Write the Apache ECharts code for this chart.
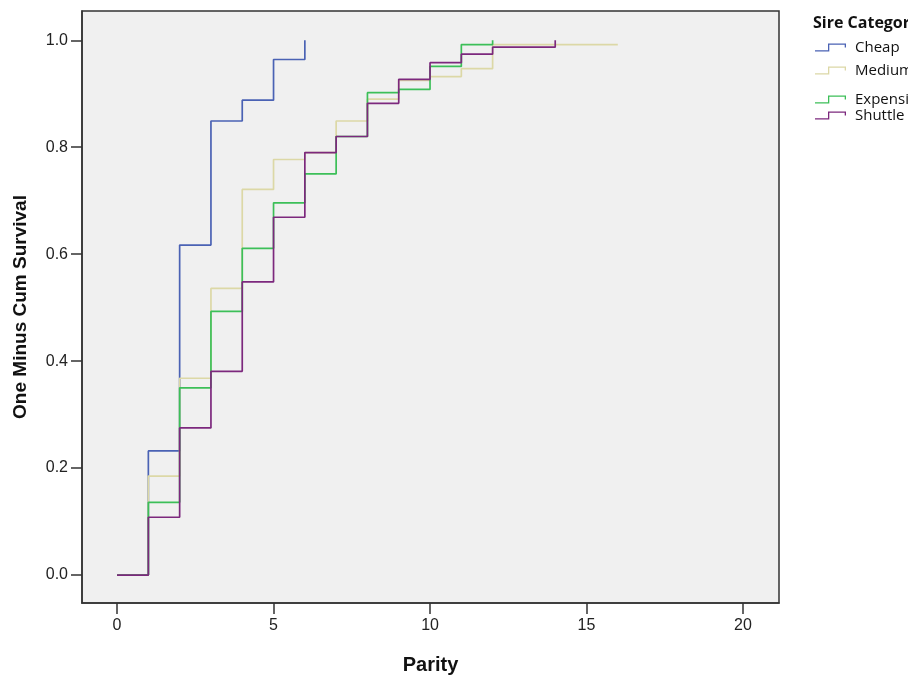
<!DOCTYPE html>
<html>
<head>
<meta charset="utf-8">
<script src="https://cdn.jsdelivr.net/npm/echarts@6/dist/echarts.min.js"></script>
<style>
html, body { margin: 0; padding: 0; background: #fff; }
#km { width: 908px; height: 686px; }
</style>
</head>
<body>
<div id="km"></div>
<script>
// parity steps and "one minus cum survival" per sire category
var cheapX = [0, 1, 2, 3, 4, 5, 6];
var cheapY = [0, 0.232, 0.617, 0.849, 0.888, 0.964, 1.0];

var mediumX = [0, 1, 2, 3, 4, 5, 6, 7, 8, 9, 10, 11, 12, 16];
var mediumY = [0, 0.185, 0.368, 0.536, 0.721, 0.777, 0.79, 0.849, 0.89, 0.925, 0.932, 0.947, 0.992, 0.992];

var expensiveX = [0, 1, 2, 3, 4, 5, 6, 7, 8, 9, 10, 11, 12];
var expensiveY = [0, 0.136, 0.35, 0.493, 0.611, 0.696, 0.75, 0.82, 0.902, 0.908, 0.951, 0.992, 1.0];

var shuttleX = [0, 1, 2, 3, 4, 5, 6, 7, 8, 9, 10, 11, 12, 14];
var shuttleY = [0, 0.108, 0.275, 0.381, 0.548, 0.669, 0.79, 0.82, 0.882, 0.927, 0.958, 0.974, 0.987, 1.0];

var categories = ['Cheap', 'Medium', 'Expensive', 'Shuttle'];
var colors = ['#4a62b4', '#dcd8a6', '#3cbf58', '#7c287d'];
var xTicks = [0, 5, 10, 15, 20];
var yTicks = [0, 0.2, 0.4, 0.6, 0.8, 1.0];

function pairs(xs, ys) {
    var out = [];
    for (var i = 0; i < xs.length; i++) {
        out.push([xs[i], ys[i]]);
    }
    return out;
}
var seriesData = [
    pairs(cheapX, cheapY),
    pairs(mediumX, mediumY),
    pairs(expensiveX, expensiveY),
    pairs(shuttleX, shuttleY)
];

// little step glyph used as legend icon
var stepIcon = 'path://M0,6.7 L13,6.7 L13,0 L31,0 L31,4 L29.7,4 L29.7,1.3 L14.3,1.3 L14.3,8 L0,8 Z';
var legendTops = [35, 58, 87, 103];

var font = 'Liberation Sans';
var myChart = echarts.init(document.getElementById('km'));

var series = [];
var legends = [];
for (var k = 0; k < categories.length; k++) {
    series.push({
        name: categories[k],
        type: 'line',
        step: 'end',
        showSymbol: false,
        data: seriesData[k],
        itemStyle: { color: colors[k] },
        lineStyle: { color: colors[k], width: 1.7 }
    });
    legends.push({
        data: [categories[k]],
        left: 810,
        top: legendTops[k],
        icon: stepIcon,
        itemWidth: 31,
        itemHeight: 8,
        selectedMode: false,
        textStyle: { color: '#111', fontSize: 15, fontFamily: 'Open Sans', padding: [0, 0, 0, 4] }
    });
}

var option = {
    animation: false,
    backgroundColor: '#fff',
    title: {
        text: 'Sire Category',
        left: 808,
        top: 10,
        textStyle: { fontSize: 16, fontWeight: 'bold', color: '#111', fontFamily: 'Open Sans' }
    },
    legend: legends,
    grid: {
        left: 82,
        top: 11,
        right: 129,
        bottom: 83,
        show: true,
        backgroundColor: '#f0f0f0',
        borderColor: '#333',
        borderWidth: 1.5
    },
    xAxis: {
        type: 'value',
        min: -1.12,
        max: 21.15,
        name: 'Parity',
        nameLocation: 'middle',
        nameGap: 52,
        nameTextStyle: { fontSize: 20, fontWeight: 'bold', color: '#111', fontFamily: font },
        axisLine: { show: true, onZero: false, lineStyle: { color: '#333', width: 1.5 } },
        axisTick: { show: true, length: 11, customValues: xTicks, lineStyle: { color: '#333', width: 1.5 } },
        axisLabel: { customValues: xTicks, margin: 15, fontSize: 16, color: '#222', fontFamily: font },
        splitLine: { show: false }
    },
    yAxis: {
        type: 'value',
        min: -0.0523,
        max: 1.0547,
        name: 'One Minus Cum Survival',
        nameLocation: 'middle',
        nameGap: 52,
        nameTextStyle: { fontSize: 19, fontWeight: 'bold', color: '#111', fontFamily: font },
        axisLine: { show: true, onZero: false, lineStyle: { color: '#333', width: 1.5 } },
        axisTick: { show: true, length: 11, customValues: yTicks, lineStyle: { color: '#333', width: 1.5 } },
        axisLabel: {
            customValues: yTicks,
            margin: 14,
            fontSize: 16,
            color: '#222',
            fontFamily: font,
            formatter: function (v) { return v.toFixed(1); }
        },
        splitLine: { show: false }
    },
    series: series
};
myChart.setOption(option);
</script>
</body>
</html>
